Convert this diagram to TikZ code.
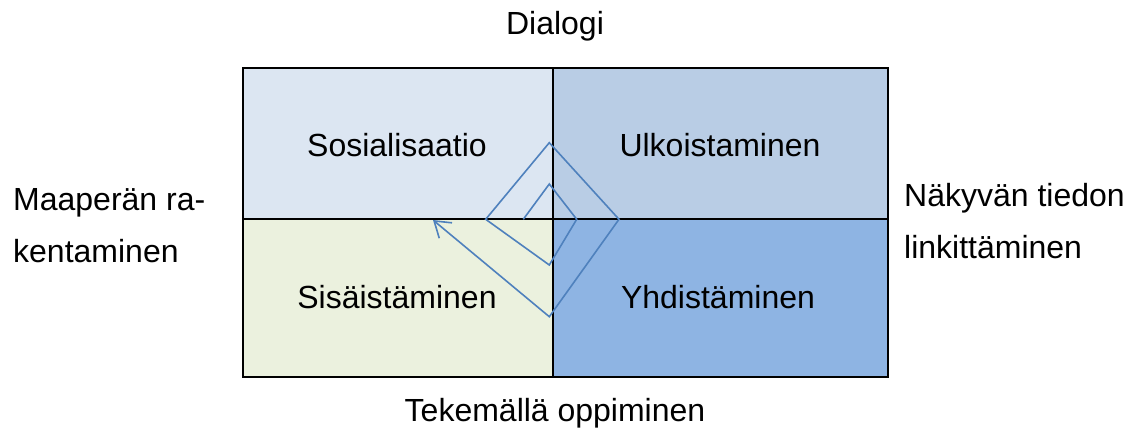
\documentclass[tikz,border=0pt]{standalone}
\usepackage{fontspec}
\setmainfont{Liberation Sans}
\usetikzlibrary{arrows.meta}
\definecolor{qa}{HTML}{DCE6F2}
\definecolor{qb}{HTML}{B9CDE5}
\definecolor{qc}{HTML}{EBF1DE}
\definecolor{qd}{HTML}{8EB4E3}
\definecolor{spir}{HTML}{4F81BD}
\tikzset{
  lbl/.style={font=\fontsize{32}{52}\selectfont, inner sep=0pt},
  side/.style={lbl, align=left, anchor=west},
  spiral/.style={draw=spir, line width=1.6pt, line join=miter},
}
\begin{document}
\begin{tikzpicture}[x=1pt,y=-1pt]
\useasboundingbox (0,0) rectangle (1132,434);
\fill[white] (0,0) rectangle (1132,434);
% quadrants
\fill[qa] (243,68) rectangle (553,219);
\fill[qb] (553,68) rectangle (888,219);
\fill[qc] (243,219) rectangle (553,377);
\fill[qd] (553,219) rectangle (888,377);
\draw[line width=1.3pt] (243,219) -- (888,219);
\draw[line width=1.3pt] (553,68) -- (553,377);
\draw[line width=2pt] (243,68) rectangle (888,377);
% labels
\node[lbl] (t) at (555,26) {Dialogi};
\node[lbl] (b) at (555,413) {Tekemällä oppiminen};
\node[lbl] (q1) at (397,145) {Sosialisaatio};
\node[lbl] (q2) at (720,145) {Ulkoistaminen};
\node[lbl] (q3) at (397,297) {Sisäistäminen};
\node[lbl] (q4) at (718,297) {Yhdistäminen};
\node[side] (l) at (13,226) {Maaperän ra-\\kentaminen};
\node[side] (r) at (904,221) {Näkyvän tiedon\\linkittäminen};
% spiral
\coordinate (s0) at (523.3,219.3);
\coordinate (s1) at (549.3,184);
\coordinate (s2) at (576.7,219.3);
\coordinate (s3) at (549.3,265);
\coordinate (s4) at (485.7,219.3);
\coordinate (s5) at (549.3,142.7);
\coordinate (s6) at (619,219.3);
\coordinate (s7) at (549.3,316.7);
\coordinate (s8) at (433,220);
\draw[spiral, -{Straight Barb[length=15pt,width=20pt,line width=1.6pt]}]
  (s0) -- (s1) -- (s2) -- (s3) -- (s4) -- (s5) -- (s6) -- (s7) -- (s8);
\end{tikzpicture}
\end{document}
